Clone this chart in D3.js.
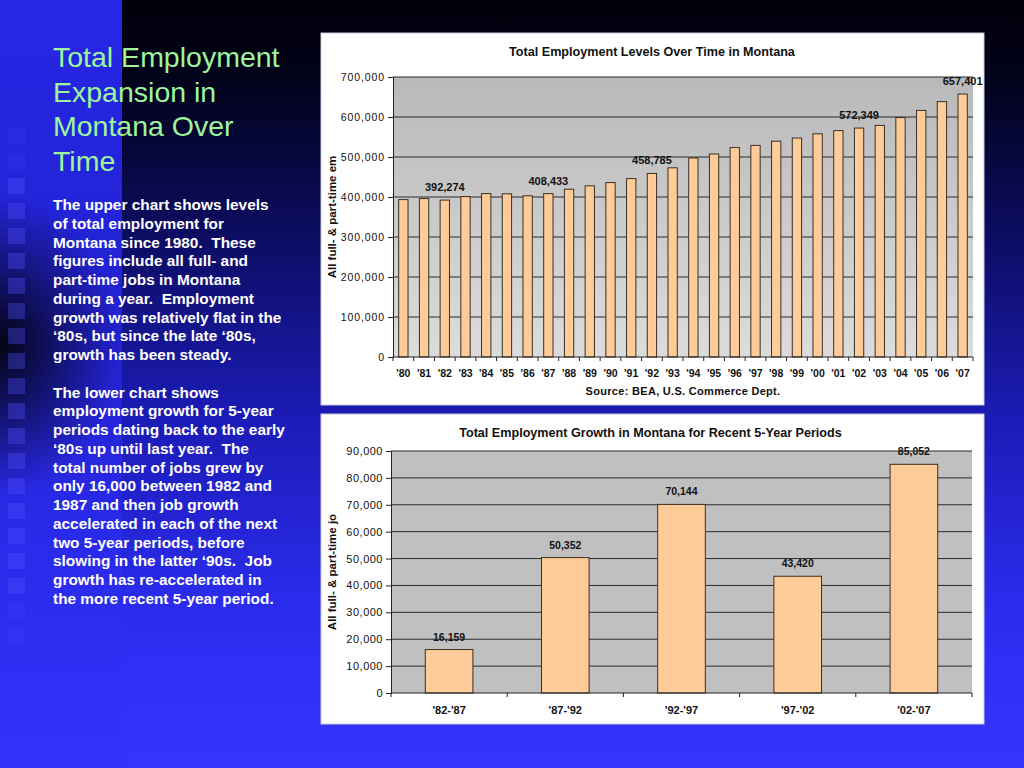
<!DOCTYPE html>
<html>
<head>
<meta charset="utf-8">
<script src="https://cdn.jsdelivr.net/npm/d3@7"></script>
<style>
  body { margin: 0; background: #000; }
  svg { display: block; font-family: "Liberation Sans", Arial, sans-serif; }
</style>
</head>
<body>
<svg></svg>
<script>
//chart data
const years = ["'80","'81","'82","'83","'84","'85","'86","'87","'88","'89","'90","'91","'92","'93",
  "'94","'95","'96","'97","'98","'99","'00","'01","'02","'03","'04","'05","'06","'07"];
const employment = [393500, 396000, 392274, 401000, 408500, 408000, 403000, 408433, 419500, 428000,
  436000, 446000, 458785, 473000, 497500, 507500, 523500, 529000, 539500, 547500, 558000, 566000,
  572349, 579000, 598500, 616500, 638500, 657401];
const labeledYears = ["'82", "'87", "'92", "'02", "'07"];
const levelTicks = [0, 100000, 200000, 300000, 400000, 500000, 600000, 700000];

const periods = ["'82-'87", "'87-'92", "'92-'97", "'97-'02", "'02-'07"];
const growth = [16159, 50352, 70144, 43420, 85052];
const growthTicks = [0, 10000, 20000, 30000, 40000, 50000, 60000, 70000, 80000, 90000];

const headLines = ["Total Employment", "Expansion in", "Montana Over", "Time"];
const bodyLines = [
  "The upper chart shows levels", "of total employment for", "Montana since 1980.  These",
  "figures include all full- and", "part-time jobs in Montana", "during a year.  Employment",
  "growth was relatively flat in the", "\u201880s, but since the late \u201880s,", "growth has been steady.", "",
  "The lower chart shows", "employment growth for 5-year", "periods dating back to the early",
  "\u201880s up until last year.  The", "total number of jobs grew by", "only 16,000 between 1982 and",
  "1987 and then job growth", "accelerated in each of the next", "two 5-year periods, before",
  "slowing in the latter \u201890s.  Job", "growth has re-accelerated in", "the more recent 5-year period."
];

const width = 1024;
const height = 768;

const svg = d3.select("svg")
  .attr("width", width)
  .attr("height", height);

const defs = svg.append("defs");

//slide background
const bgGrad = defs.append("linearGradient").attr("id", "bg").attr("x1", 0).attr("y1", 0).attr("x2", 0).attr("y2", 1);
[[0, "#00000a"], [0.1, "#02021a"], [0.3, "#0c0c60"], [0.55, "#1c1cb8"], [0.8, "#2c2cf0"], [1, "#3434ff"]]
  .forEach(s => bgGrad.append("stop").attr("offset", s[0]).attr("stop-color", s[1]));

const stripGrad = defs.append("linearGradient").attr("id", "strip").attr("x1", 0).attr("y1", 0).attr("x2", 0).attr("y2", 1);
[[0, "#2626e6"], [0.45, "#2222d0"], [0.7, "#2a2aea"], [1, "#3232fc"]]
  .forEach(s => stripGrad.append("stop").attr("offset", s[0]).attr("stop-color", s[1]));

const shade = defs.append("radialGradient").attr("id", "shade");
shade.append("stop").attr("offset", 0).attr("stop-color", "#000").attr("stop-opacity", 0.9);
shade.append("stop").attr("offset", 1).attr("stop-color", "#000").attr("stop-opacity", 0);

const plotGrad = defs.append("linearGradient").attr("id", "plotbg").attr("x1", 0).attr("y1", 0).attr("x2", 0).attr("y2", 1);
plotGrad.append("stop").attr("offset", 0).attr("stop-color", "#b9b9b9");
plotGrad.append("stop").attr("offset", 1).attr("stop-color", "#dcdcdc");

svg.append("rect").attr("width", width).attr("height", height).attr("fill", "url(#bg)");
svg.append("rect").attr("width", 122).attr("height", height).attr("fill", "url(#strip)");
svg.append("ellipse").attr("cx", 0).attr("cy", 345).attr("rx", 120).attr("ry", 150).attr("fill", "url(#shade)");

//little squares down the left edge
svg.selectAll("rect.sq")
  .data(d3.range(21))
  .enter().append("rect")
  .attr("class", "sq")
  .attr("x", 8)
  .attr("y", i => 128 + i * 25)
  .attr("width", 17)
  .attr("height", 16)
  .attr("fill", "#5050ff")
  .attr("opacity", i => (i < 2 || i > 18) ? 0.15 : 0.35);

//left side text
svg.append("text")
  .attr("x", 53).attr("y", 67)
  .attr("fill", "#9cf59c")
  .attr("font-size", 28.5)
  .selectAll("tspan")
  .data(headLines)
  .enter().append("tspan")
  .attr("x", 53)
  .attr("dy", (d, i) => i ? 34.5 : 0)
  .text(d => d);

svg.append("text")
  .attr("x", 53).attr("y", 210)
  .attr("fill", "#fff")
  .attr("font-size", 15.4)
  .attr("font-weight", "bold")
  .style("white-space", "pre")
  .selectAll("tspan")
  .data(bodyLines)
  .enter().append("tspan")
  .attr("x", 53)
  .attr("dy", (d, i) => i ? 18.75 : 0)
  .text(d => d || "\u00a0");

//draws one bar chart panel
function barChart(o) {
  const g = svg.append("g");

  g.append("rect")
    .attr("x", o.panel[0]).attr("y", o.panel[1])
    .attr("width", o.panel[2]).attr("height", o.panel[3])
    .attr("fill", "#fff")
    .attr("stroke", "#c8c8d8");

  const x = d3.scaleBand()
    .domain(o.cats)
    .range([o.left, o.right])
    .paddingInner(o.pad)
    .paddingOuter(o.pad / 2);

  const y = d3.scaleLinear()
    .domain([0, d3.max(o.ticks)])
    .range([o.bottom, o.top]);

  g.append("rect")
    .attr("x", o.left).attr("y", o.top)
    .attr("width", o.right - o.left).attr("height", o.bottom - o.top)
    .attr("fill", o.plotFill);

  //gridlines
  g.selectAll("line.grid")
    .data(o.ticks.slice(1))
    .enter().append("line")
    .attr("x1", o.left).attr("x2", o.right)
    .attr("y1", d => y(d)).attr("y2", d => y(d))
    .attr("stroke", "#2a2a2a")
    .attr("stroke-width", 1);

  //bars
  g.selectAll("rect.bar")
    .data(o.values)
    .enter().append("rect")
    .attr("x", (d, i) => x(o.cats[i]))
    .attr("y", d => y(d))
    .attr("width", x.bandwidth())
    .attr("height", d => o.bottom - y(d))
    .attr("fill", "#ffcc99")
    .attr("stroke", "#3a2e22")
    .attr("stroke-width", 1);

  //value labels
  g.selectAll("text.val")
    .data(o.values.map((v, i) => ({ v, c: o.cats[i] })).filter(d => o.labelled(d.c)))
    .enter().append("text")
    .attr("x", d => x(d.c) + x.bandwidth() / 2)
    .attr("y", d => y(d.v) - 9)
    .attr("text-anchor", "middle")
    .attr("font-size", o.valSize)
    .attr("font-weight", "bold")
    .attr("fill", "#111")
    .text(d => d3.format(",")(d.v));

  //y axis
  const yAxis = g.append("g")
    .attr("transform", `translate(${o.left},0)`)
    .call(d3.axisLeft(y).tickValues(o.ticks).tickFormat(d3.format(",")).tickSize(5).tickPadding(3));
  yAxis.select(".domain").attr("stroke", "#222");
  yAxis.selectAll("line").attr("stroke", "#222");
  yAxis.selectAll("text")
    .attr("font-size", o.ySize)
    .attr("letter-spacing", o.ySpace)
    .attr("fill", "#111")
    .attr("font-family", "Liberation Sans, Arial, sans-serif");

  //x axis: ticks sit between the bars
  g.append("line")
    .attr("x1", o.left).attr("x2", o.right)
    .attr("y1", o.bottom).attr("y2", o.bottom)
    .attr("stroke", "#222");
  const bounds = o.cats.map(c => x(c) - x.step() * o.pad / 2).concat([o.right]);
  g.selectAll("line.xt")
    .data(bounds)
    .enter().append("line")
    .attr("x1", d => d).attr("x2", d => d)
    .attr("y1", o.bottom).attr("y2", o.bottom + 4)
    .attr("stroke", "#222");
  g.selectAll("text.xl")
    .data(o.cats)
    .enter().append("text")
    .attr("x", d => x(d) + x.bandwidth() / 2)
    .attr("y", o.xLabelY)
    .attr("text-anchor", "middle")
    .attr("font-size", o.xSize)
    .attr("font-weight", "bold")
    .attr("fill", "#111")
    .text(d => d);

  //titles
  g.append("text")
    .attr("x", (o.left + o.right) / 2 - 31)
    .attr("y", o.titleY)
    .attr("text-anchor", "middle")
    .attr("font-size", 12.6)
    .attr("font-weight", "bold")
    .attr("fill", "#111")
    .text(o.title);

  g.append("text")
    .attr("transform", `translate(336,${(o.top + o.bottom) / 2}) rotate(-90)`)
    .attr("text-anchor", "middle")
    .attr("font-size", 11.5)
    .attr("font-weight", "bold")
    .attr("fill", "#111")
    .text(o.yTitle);

  if (o.source) {
    g.append("text")
      .attr("x", (o.left + o.right) / 2)
      .attr("y", o.sourceY)
      .attr("text-anchor", "middle")
      .attr("font-size", 11)
      .attr("font-weight", "bold")
      .attr("letter-spacing", 0.3)
      .attr("fill", "#111")
      .text(o.source);
  }
}

barChart({
  panel: [321, 33, 663, 372],
  cats: years, values: employment, ticks: levelTicks,
  left: 393, right: 973, top: 77, bottom: 357, pad: 0.55,
  plotFill: "url(#plotbg)",
  labelled: c => labeledYears.includes(c),
  valSize: 11, ySize: 10.5, ySpace: 0.9, xSize: 10.5, xLabelY: 377,
  title: "Total Employment Levels Over Time in Montana", titleY: 56,
  yTitle: "All full- & part-time em",
  source: "Source: BEA, U.S. Commerce Dept.", sourceY: 395
});

barChart({
  panel: [321, 414, 663, 310],
  cats: periods, values: growth, ticks: growthTicks,
  left: 391, right: 972, top: 451, bottom: 693, pad: 0.59,
  plotFill: "#c0c0c0",
  labelled: c => true,
  valSize: 10.5, ySize: 11, ySpace: 0.5, xSize: 11, xLabelY: 714,
  title: "Total Employment Growth in Montana for Recent 5-Year Periods", titleY: 437,
  yTitle: "All full- & part-time jo"
});
</script>
</body>
</html>
